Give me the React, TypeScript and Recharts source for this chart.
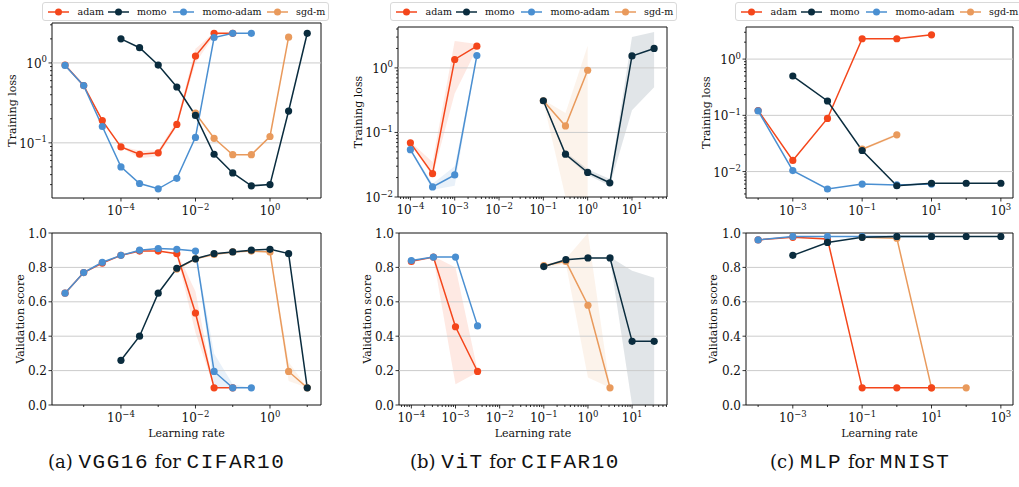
import React from "react";
import {
	Area,
	ComposedChart,
	Line,
	ReferenceArea,
	ReferenceLine,
	XAxis,
	YAxis,
} from "recharts";

type Band = [number, number] | null;
type Val = number | null;

const serif = '"DejaVu Serif", "Noto Serif", Georgia, serif';
const mono = '"Liberation Mono", "DejaVu Sans Mono", monospace';

const COLORS = {
	adam: "#f4461b",
	momo: "#0a2c3e",
	momoAdam: "#4a8fd1",
	sgdm: "#e99a5c",
};

// drawing order (back to front) and legend order
const DRAW_ORDER = ["sgdm", "adam", "momoAdam", "momo"] as const;
const LEGEND = [
	{ name: "adam", color: COLORS.adam, at: 5 },
	{ name: "momo", color: COLORS.momo, at: 64.5 },
	{ name: "momo-adam", color: COLORS.momoAdam, at: 130 },
	{ name: "sgd-m", color: COLORS.sgdm, at: 223.5 },
];

// ---------- (a) VGG16 / CIFAR10 ----------
const vggLr = [3.16e-6, 1e-5, 3.16e-5, 1e-4, 3.16e-4, 1e-3, 3.16e-3, 1e-2, 3.16e-2, 1e-1, 3.16e-1, 1, 3.16, 10];
const vggLossAdam: Val[] = [0.94, 0.52, 0.19, 0.089, 0.072, 0.075, 0.17, 1.22, 2.35, 2.35, null, null, null, null];
const vggLossMomo: Val[] = [null, null, null, 2.0, 1.55, 0.94, 0.5, 0.22, 0.072, 0.042, 0.029, 0.03, 0.25, 2.35];
const vggLossMomoAdam: Val[] = [0.93, 0.52, 0.16, 0.05, 0.031, 0.0266, 0.036, 0.117, 2.08, 2.35, 2.35, null, null, null];
const vggLossSgdm: Val[] = [null, null, null, null, null, null, null, 0.235, 0.114, 0.071, 0.071, 0.12, 2.1, null];
const vggValAdam: Val[] = [0.65, 0.77, 0.825, 0.87, 0.895, 0.895, 0.88, 0.535, 0.1, 0.1, null, null, null, null];
const vggValMomo: Val[] = [null, null, null, 0.26, 0.4, 0.65, 0.795, 0.85, 0.88, 0.89, 0.9, 0.905, 0.88, 0.1];
const vggValMomoAdam: Val[] = [0.65, 0.77, 0.83, 0.87, 0.9, 0.91, 0.905, 0.895, 0.195, 0.1, 0.1, null, null, null];
const vggValSgdm: Val[] = [null, null, null, null, null, null, 0.79, 0.85, 0.875, 0.89, 0.895, 0.89, 0.195, 0.1];
const vggLossBandAdam: Band[] = [null, null, null, [0.088, 0.09], [0.064, 0.08], [0.068, 0.08], [0.16, 0.19], [1.0, 1.5], [2.2, 2.4], [2.35, 2.35], null, null, null, null];
const vggValBandAdam: Band[] = [null, null, null, null, null, null, [0.87, 0.89], [0.42, 0.66], [0.1, 0.1], null, null, null, null, null];
const vggValBandMomoAdam: Band[] = [null, null, null, null, null, null, null, [0.89, 0.9], [0.1, 0.3], [0.1, 0.12], [0.1, 0.1], null, null, null];
const vggValBandSgdm: Band[] = [null, null, null, null, null, null, null, null, null, null, null, [0.88, 0.9], [0.14, 0.25], [0.1, 0.1]];

// ---------- (b) ViT / CIFAR10 ----------
const vitLr = [1e-4, 3.16e-4, 1e-3, 3.16e-3, 1e-1, 3.16e-1, 1, 3.16, 10, 31.6];
const vitLossAdam: Val[] = [0.069, 0.023, 1.35, 2.17, null, null, null, null, null, null];
const vitLossMomo: Val[] = [null, null, null, null, 0.31, 0.046, 0.024, 0.0166, 1.53, 2.0];
const vitLossMomoAdam: Val[] = [0.054, 0.0143, 0.022, 1.55, null, null, null, null, null, null];
const vitLossSgdm: Val[] = [null, null, null, null, 0.31, 0.126, 0.92, null, null, null];
const vitValAdam: Val[] = [0.835, 0.86, 0.455, 0.195, null, null, null, null, null, null];
const vitValMomo: Val[] = [null, null, null, null, 0.805, 0.845, 0.855, 0.855, 0.37, 0.37];
const vitValMomoAdam: Val[] = [0.84, 0.86, 0.86, 0.46, null, null, null, null, null, null];
const vitValSgdm: Val[] = [null, null, null, null, 0.81, 0.835, 0.58, 0.1, null, null];
const vitLossBandAdam: Band[] = [[0.066, 0.072], [0.021, 0.035], [0.4, 2.6], [2.0, 2.35], null, null, null, null, null, null];
const vitLossBandMomoAdam: Band[] = [[0.052, 0.056], [0.013, 0.016], [0.015, 0.03], [1.5, 1.6], null, null, null, null, null, null];
const vitLossBandSgdm: Band[] = [null, null, null, null, [0.3, 0.32], [0.01, 0.2], [0.01, 2.2], null, null, null];
const vitLossBandMomo: Band[] = [null, null, null, null, [0.3, 0.32], [0.044, 0.05], [0.022, 0.027], [0.015, 0.019], [0.22, 3.0], [0.5, 3.6]];
const vitValBandAdam: Band[] = [[0.83, 0.84], [0.855, 0.865], [0.12, 0.8], [0.19, 0.2], null, null, null, null, null, null];
const vitValBandSgdm: Band[] = [null, null, null, null, [0.8, 0.815], [0.82, 0.85], [0.16, 1.0], [0.1, 0.1], null, null];
const vitValBandMomo: Band[] = [null, null, null, null, null, null, null, [0.85, 0.86], [0.0, 0.78], [0.0, 0.74]];

// ---------- (c) MLP / MNIST ----------
const mlpLr = [1e-4, 1e-3, 1e-2, 1e-1, 1, 10, 100, 1000];
const mlpLossAdam: Val[] = [0.122, 0.0158, 0.088, 2.3, 2.3, 2.7, null, null];
const mlpLossMomo: Val[] = [null, 0.5, 0.18, 0.0237, 0.0056, 0.0062, 0.0062, 0.0062];
const mlpLossMomoAdam: Val[] = [0.12, 0.0104, 0.0049, 0.006, 0.0058, 0.006, null, null];
const mlpLossSgdm: Val[] = [null, null, null, 0.025, 0.045, null, null, null];
const mlpValAdam: Val[] = [0.96, 0.975, 0.965, 0.1, 0.1, 0.1, null, null];
const mlpValMomo: Val[] = [null, 0.87, 0.945, 0.975, 0.98, 0.98, 0.98, 0.98];
const mlpValMomoAdam: Val[] = [0.96, 0.98, 0.98, 0.98, 0.98, 0.98, null, null];
const mlpValSgdm: Val[] = [null, null, null, 0.975, 0.97, 0.1, 0.1, null];
const mlpLossBandSgdm: Band[] = [null, null, null, [0.024, 0.026], [0.042, 0.048], null, null, null];

// ---------- axes ----------
const vggXDomain = [1.41e-6, 23.4];
const vitXDomain = [5.25e-5, 61.7];
const mlpXDomain = [4.47e-5, 2239];
const vggLossDomain = [0.0204, 3.16];
const vitLossDomain = [0.01, 4.3];
const mlpLossDomain = [0.00339, 3.72];

const vggXLabeled = [1e-4, 1e-2, 1];
const vggXMinor = [1e-5, 1e-3, 1e-1, 10];
const vitXLabeled = [1e-4, 1e-3, 1e-2, 1e-1, 1, 10];
const mlpXLabeled = [1e-3, 1e-1, 10, 1000];
const mlpXMinor = [1e-4, 1e-2, 1, 100];
const lossLabeled = [0.001, 0.01, 0.1, 1];
const valTicks = [0, 0.2, 0.4, 0.6, 0.8, 1];
const valGrid = [0.2, 0.4, 0.6, 0.8];
const SUBS = [2, 3, 4, 5, 6, 7, 8, 9];

function minorTicks(domain: number[]) {
	const out: number[] = [];
	for (let k = Math.floor(Math.log10(domain[0])); k <= Math.ceil(Math.log10(domain[1])); k++) {
		for (const s of SUBS) {
			const v = s * Math.pow(10, k);
			if (v >= domain[0] && v <= domain[1]) out.push(v);
		}
	}
	return out;
}

const inside = (vals: number[], d: number[]) => vals.filter((v) => v >= d[0] * 0.9999 && v <= d[1] * 1.0001);
const isIn = (v: number, list: number[]) => list.some((t) => Math.abs(t / v - 1) < 1e-6);

function sup(v: number) {
	const e = Math.round(Math.log10(v));
	return e < 0 ? "\u2212" + Math.abs(e) : String(e);
}

function buildRows(lr: number[], s: Record<string, Val[]>, b: Record<string, Band[]>) {
	return lr.map((x, i) => {
		const row: Record<string, unknown> = { lr: x };
		for (const k of DRAW_ORDER) {
			row[k] = s[k] ? s[k][i] : null;
			row[k + "Band"] = b[k] ? b[k][i] : null;
		}
		return row;
	});
}

const TICK_FONT = 12;

function LogXTick(props: any) {
	const { x, y, payload, labeled } = props;
	const v = payload.value;
	const lab = isIn(v, labeled);
	return (
		<g>
			<line x1={x} x2={x} y1={y} y2={y + (lab ? 3.5 : 2)} stroke="#000" strokeWidth={0.8} />
			{lab && (
				<text x={x} y={y + 17} textAnchor="middle" fontFamily={serif} fontSize={TICK_FONT} fill="#111">
					10
					<tspan fontSize={8.5} dy={-5.5}>
						{sup(v)}
					</tspan>
				</text>
			)}
		</g>
	);
}

function LogYTick(props: any) {
	const { x, y, payload, labeled } = props;
	const v = payload.value;
	const lab = isIn(v, labeled);
	return (
		<g>
			<line x1={x} x2={x - (lab ? 3.5 : 2)} y1={y} y2={y} stroke="#000" strokeWidth={0.8} />
			{lab && (
				<text x={x - 5} y={y + 5} textAnchor="end" fontFamily={serif} fontSize={TICK_FONT} fill="#111">
					10
					<tspan fontSize={8.5} dy={-5.5}>
						{sup(v)}
					</tspan>
				</text>
			)}
		</g>
	);
}

function LinYTick(props: any) {
	const { x, y, payload } = props;
	return (
		<g>
			<line x1={x} x2={x - 3.5} y1={y} y2={y} stroke="#000" strokeWidth={0.8} />
			<text x={x - 5} y={y + 4.5} textAnchor="end" fontFamily={serif} fontSize={TICK_FONT} fill="#111">
				{payload.value.toFixed(1)}
			</text>
		</g>
	);
}

interface Box {
	left: number;
	top: number;
	right: number;
	bottom: number;
}

const PAD_L = 60;
const PAD_T = 10;
const PAD_R = 10;
const PAD_B = 40;

function Panel({
	box,
	data,
	xDomain,
	xLabeled,
	xMinor,
	log,
	yDomain,
	yLabel,
	yLabelX,
	xLabel,
}: {
	box: Box;
	data: Record<string, unknown>[];
	xDomain: number[];
	xLabeled: number[];
	xMinor: number[];
	log: boolean;
	yDomain: number[];
	yLabel: string;
	yLabelX: number;
	xLabel?: string;
}) {
	const width = box.right - box.left + PAD_L + PAD_R;
	const height = box.bottom - box.top + PAD_T + PAD_B;
	const xLab = inside(xLabeled, xDomain);
	const xTicks = [...xLab, ...inside(xMinor, xDomain)].sort((a, b) => a - b);
	const yLab = log ? inside(lossLabeled, yDomain) : valTicks;
	const yTicks = log ? [...yLab, ...minorTicks(yDomain)].sort((a, b) => a - b) : valTicks;
	const grid = log ? yLab.filter((v) => v > yDomain[0] * 1.001 && v < yDomain[1] * 0.999) : valGrid;
	const labelStyle = { textAnchor: "middle" as const, fontFamily: serif, fontSize: 11, fill: "#111" };

	return (
		<div style={{ position: "absolute", left: box.left - PAD_L, top: box.top - PAD_T }}>
			<ComposedChart width={width} height={height} data={data} margin={{ top: PAD_T, right: PAD_R, bottom: 0, left: 0 }}>
				<XAxis
					dataKey="lr"
					type="number"
					scale="log"
					domain={xDomain}
					allowDataOverflow
					ticks={xTicks}
					interval={0}
					height={PAD_B}
					tickSize={0}
					tickMargin={0}
					tickLine={false}
					axisLine={false}
					tick={(p: any) => <LogXTick {...p} labeled={xLab} />}
					label={xLabel ? { value: xLabel, position: "insideBottom", offset: 8, style: labelStyle } : undefined}
				/>
				<YAxis
					type="number"
					scale={log ? "log" : "linear"}
					domain={yDomain}
					allowDataOverflow
					ticks={yTicks}
					interval={0}
					width={PAD_L}
					tickSize={0}
					tickMargin={0}
					tickLine={false}
					axisLine={false}
					tick={(p: any) => (log ? <LogYTick {...p} labeled={yLab} /> : <LinYTick {...p} />)}
					label={{
						value: yLabel,
						angle: -90,
						position: "insideLeft",
						offset: yLabelX - (box.left - PAD_L),
						style: labelStyle,
					}}
				/>
				{grid.map((g) => (
					<ReferenceLine key={g} y={g} stroke="#cccccc" strokeWidth={1} />
				))}
				{DRAW_ORDER.map((k) => (
					<Area
						key={k + "Band"}
						dataKey={k + "Band"}
						type="linear"
						stroke="none"
						fill={COLORS[k]}
						fillOpacity={0.12}
						connectNulls={false}
						activeDot={false}
						isAnimationActive={false}
					/>
				))}
				{DRAW_ORDER.map((k) => (
					<Line
						key={k}
						dataKey={k}
						type="linear"
						stroke={COLORS[k]}
						strokeWidth={1.5}
						dot={{ r: 3.6, fill: COLORS[k], stroke: COLORS[k], strokeWidth: 0 }}
						activeDot={false}
						connectNulls={false}
						isAnimationActive={false}
					/>
				))}
				<ReferenceArea
					x1={xDomain[0]}
					x2={xDomain[1]}
					y1={yDomain[0]}
					y2={yDomain[1]}
					ifOverflow="visible"
					fill="none"
					fillOpacity={0}
					stroke="#111"
					strokeWidth={1}
				/>
			</ComposedChart>
		</div>
	);
}

function LegendBox({ left, top }: { left: number; top: number }) {
	return (
		<div
			style={{
				position: "absolute",
				left,
				top,
				width: 285,
				height: 17,
				border: "1px solid #d9d9d9",
				borderRadius: 3,
				background: "#fff",
				fontFamily: serif,
				fontSize: 9.5,
				color: "#111",
				whiteSpace: "nowrap",
			}}
		>
			{LEGEND.map((it) => (
				<span key={it.name} style={{ position: "absolute", left: it.at, top: 0, height: 17, display: "flex", alignItems: "center" }}>
					<svg width={21} height={10} style={{ marginRight: 8.5 }}>
						<line x1={0} x2={21} y1={5} y2={5} stroke={it.color} strokeWidth={1.5} />
						<circle cx={10.5} cy={5} r={3.5} fill={it.color} />
					</svg>
					{it.name}
				</span>
			))}
		</div>
	);
}

function Caption({ left, tag, model, data }: { left: number; tag: string; model: string; data: string }) {
	return (
		<div
			style={{
				position: "absolute",
				left,
				top: 451,
				fontFamily: serif,
				fontSize: 18,
				color: "#111",
				whiteSpace: "nowrap",
			}}
		>
			({tag}) <span style={{ fontFamily: mono, fontSize: 21, letterSpacing: 1.5 }}>{model}</span> for{" "}
			<span style={{ fontFamily: mono, fontSize: 21, letterSpacing: 1.5 }}>{data}</span>
		</div>
	);
}

export default function App() {
	const vggLoss = buildRows(vggLr, { adam: vggLossAdam, momo: vggLossMomo, momoAdam: vggLossMomoAdam, sgdm: vggLossSgdm }, { adam: vggLossBandAdam });
	const vggVal = buildRows(vggLr, { adam: vggValAdam, momo: vggValMomo, momoAdam: vggValMomoAdam, sgdm: vggValSgdm }, { adam: vggValBandAdam, momoAdam: vggValBandMomoAdam, sgdm: vggValBandSgdm });
	const vitLoss = buildRows(vitLr, { adam: vitLossAdam, momo: vitLossMomo, momoAdam: vitLossMomoAdam, sgdm: vitLossSgdm }, { adam: vitLossBandAdam, momoAdam: vitLossBandMomoAdam, sgdm: vitLossBandSgdm, momo: vitLossBandMomo });
	const vitVal = buildRows(vitLr, { adam: vitValAdam, momo: vitValMomo, momoAdam: vitValMomoAdam, sgdm: vitValSgdm }, { adam: vitValBandAdam, sgdm: vitValBandSgdm, momo: vitValBandMomo });
	const mlpLoss = buildRows(mlpLr, { adam: mlpLossAdam, momo: mlpLossMomo, momoAdam: mlpLossMomoAdam, sgdm: mlpLossSgdm }, { sgdm: mlpLossBandSgdm });
	const mlpVal = buildRows(mlpLr, { adam: mlpValAdam, momo: mlpValMomo, momoAdam: mlpValMomoAdam, sgdm: mlpValSgdm }, {});
	const vitXMinor = minorTicks(vitXDomain);

	return (
		<div style={{ position: "absolute", left: 0, top: 0, width: 1019, height: 487, background: "#fff", overflow: "hidden" }}>
			<Panel box={{ left: 52, top: 23, right: 321, bottom: 198 }} data={vggLoss} xDomain={vggXDomain} xLabeled={vggXLabeled} xMinor={vggXMinor} log yDomain={vggLossDomain} yLabel="Training loss" yLabelX={12} />
			<Panel box={{ left: 52, top: 233, right: 321, bottom: 405 }} data={vggVal} xDomain={vggXDomain} xLabeled={vggXLabeled} xMinor={vggXMinor} log={false} yDomain={[0, 1]} yLabel="Validation score" yLabelX={20} xLabel="Learning rate" />
			<Panel box={{ left: 398, top: 27, right: 667, bottom: 197 }} data={vitLoss} xDomain={vitXDomain} xLabeled={vitXLabeled} xMinor={vitXMinor} log yDomain={vitLossDomain} yLabel="Training loss" yLabelX={358} />
			<Panel box={{ left: 399, top: 233, right: 667, bottom: 405 }} data={vitVal} xDomain={vitXDomain} xLabeled={vitXLabeled} xMinor={vitXMinor} log={false} yDomain={[0, 1]} yLabel="Validation score" yLabelX={367} xLabel="Learning rate" />
			<Panel box={{ left: 746, top: 27, right: 1013, bottom: 198 }} data={mlpLoss} xDomain={mlpXDomain} xLabeled={mlpXLabeled} xMinor={mlpXMinor} log yDomain={mlpLossDomain} yLabel="Training loss" yLabelX={706} />
			<Panel box={{ left: 746, top: 233, right: 1013, bottom: 405 }} data={mlpVal} xDomain={mlpXDomain} xLabeled={mlpXLabeled} xMinor={mlpXMinor} log={false} yDomain={[0, 1]} yLabel="Validation score" yLabelX={713} xLabel="Learning rate" />
			<LegendBox left={42} top={2} />
			<LegendBox left={390} top={2} />
			<LegendBox left={735} top={2} />
			<Caption left={48} tag="a" model="VGG16" data="CIFAR10" />
			<Caption left={410} tag="b" model="ViT" data="CIFAR10" />
			<Caption left={770} tag="c" model="MLP" data="MNIST" />
		</div>
	);
}
